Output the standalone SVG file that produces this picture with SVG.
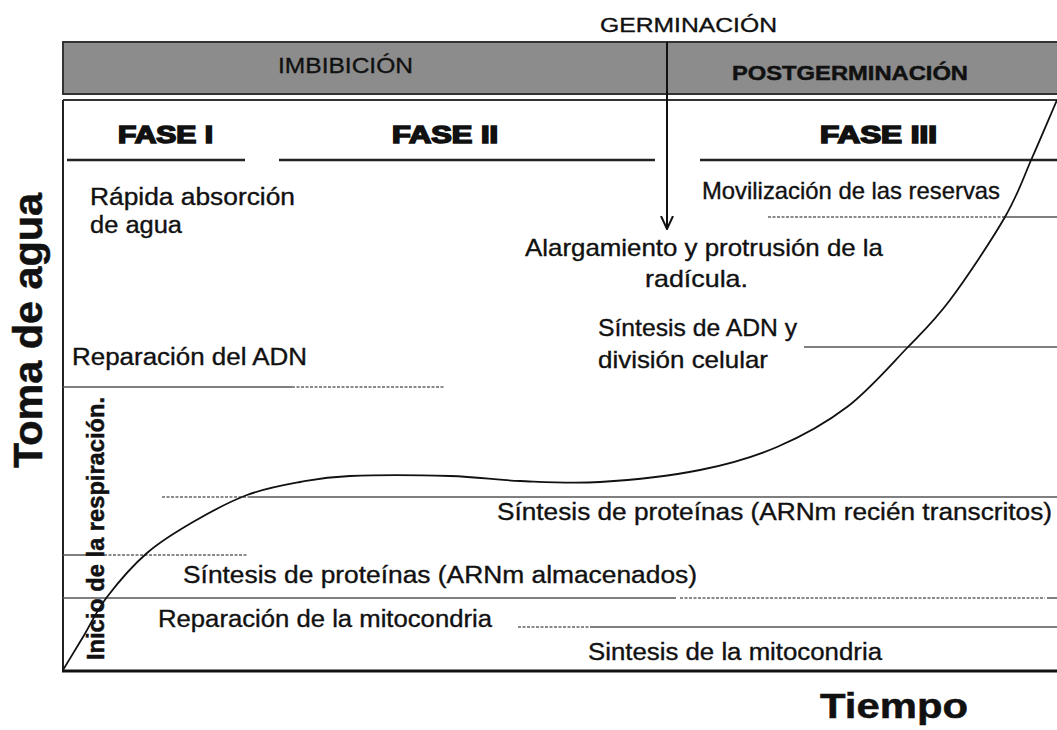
<svg xmlns="http://www.w3.org/2000/svg" width="1057" height="730" viewBox="0 0 1057 730">
<defs>
<style>
.t{font-family:"Liberation Sans",Arial,sans-serif;fill:#111;stroke:#111;stroke-width:0.35px;}
.b{font-weight:bold;stroke-width:0.5px;}
.fase{font-family:"Liberation Sans",Arial,sans-serif;font-weight:bold;font-size:23px;fill:#111;stroke:#111;stroke-width:1.6px;}
.ln{stroke:#555;stroke-width:1.5;fill:none;}
.dt{stroke:#666;stroke-width:1.5;fill:none;stroke-dasharray:3 1.5;}
.ph{stroke:#222;stroke-width:2.5;fill:none;}
</style>
<marker id="vh" viewBox="0 0 14 14" refX="13" refY="7" markerWidth="14" markerHeight="14" markerUnits="userSpaceOnUse" orient="auto">
<path d="M0,1 L13,7 L0,13" fill="none" stroke="#111" stroke-width="2"/>
</marker>
</defs>
<rect width="1057" height="730" fill="#fff"/>

<g id="header">
<rect x="63" y="42" width="1000" height="52" fill="#8c8c8c" stroke="#333" stroke-width="2"/>
<text class="t" x="278" y="73" font-size="22" textLength="135" lengthAdjust="spacingAndGlyphs">IMBIBICIÓN</text>
<text class="t b" x="732" y="80" font-size="21" textLength="236" lengthAdjust="spacingAndGlyphs">POSTGERMINACIÓN</text>
</g>

<g id="germinacion">
<text class="t" x="600" y="32" font-size="21" textLength="177" lengthAdjust="spacingAndGlyphs">GERMINACIÓN</text>
</g>

<g id="frame">
<line x1="63" y1="100" x2="1057" y2="100" stroke="#333" stroke-width="2"/>
<line x1="63" y1="100" x2="63" y2="672" stroke="#222" stroke-width="2"/>
<line x1="62" y1="671" x2="1057" y2="671" stroke="#111" stroke-width="3"/>
</g>

<g id="fases">
<text class="fase" x="118" y="143" textLength="95" lengthAdjust="spacingAndGlyphs">FASE I</text>
<text class="fase" x="392" y="143" textLength="106" lengthAdjust="spacingAndGlyphs">FASE II</text>
<text class="fase" x="820" y="143" textLength="117" lengthAdjust="spacingAndGlyphs">FASE III</text>
<line class="ph" x1="67" y1="160" x2="245" y2="160"/>
<line class="ph" x1="279" y1="160" x2="655" y2="160"/>
<line class="ph" x1="700" y1="160" x2="1057" y2="160"/>
</g>

<g id="connectors">
<line x1="667" y1="42" x2="667" y2="229" stroke="#111" stroke-width="2" marker-end="url(#vh)"/>
</g>

<g id="lines">
<line class="dt" x1="768" y1="217" x2="1002" y2="217"/>
<line class="ln" x1="1002" y1="217" x2="1057" y2="217"/>
<line class="ln" x1="804" y1="347" x2="1057" y2="347"/>
<line class="ln" x1="63" y1="387" x2="292" y2="387"/>
<line class="dt" x1="292" y1="387" x2="445" y2="387"/>
<line class="dt" x1="162" y1="497" x2="250" y2="497"/>
<line class="ln" x1="250" y1="497" x2="1057" y2="497"/>
<line class="ln" x1="63" y1="555" x2="95" y2="555"/>
<line class="dt" x1="95" y1="555" x2="247" y2="555" stroke-dasharray="5 2"/>
<line class="ln" x1="63" y1="598" x2="676" y2="598"/>
<line class="dt" x1="680" y1="598" x2="1045" y2="598"/>
<line class="ln" x1="1047" y1="598" x2="1057" y2="598"/>
<line class="dt" x1="518" y1="627" x2="590" y2="627"/>
<line class="ln" x1="590" y1="627" x2="1057" y2="627"/>
</g>

<g id="curve">
<path d="M63,670 C69.7,659 75.67,649.17 83,637 C90.33,624.83 96.33,611 107,597 C117.67,583 132.67,565.5 147,553 C161.33,540.5 176.33,531.67 193,522 C209.67,512.33 229.17,501.67 247,495 C264.83,488.33 282.83,485.17 300,482 C317.17,478.83 325,477 350,476 C375,475 421.67,475.17 450,476 C478.33,476.83 495,480 520,481 C545,482 570,483.83 600,482 C630,480.17 670.5,475.83 700,470 C729.5,464.17 752.5,457.5 777,447 C801.5,436.5 825.33,423.5 847,407 C868.67,390.5 889.83,365.83 907,348 C924.17,330.17 933.67,321.83 950,300 C966.33,278.17 991.33,240.67 1005,217 C1018.67,193.33 1023.33,177.5 1032,158 C1040.67,138.5 1048.67,119.33 1057,100" fill="none" stroke="#111" stroke-width="1.8"/>
</g>

<g id="labels">
<text class="t" x="90" y="205" font-size="23" textLength="205" lengthAdjust="spacingAndGlyphs">Rápida absorción</text>
<text class="t" x="90" y="233" font-size="23" textLength="92" lengthAdjust="spacingAndGlyphs">de agua</text>
<text class="t" x="702" y="199" font-size="24" textLength="298" lengthAdjust="spacingAndGlyphs">Movilización de las reservas</text>
<text class="t" x="525" y="256" font-size="24" textLength="358" lengthAdjust="spacingAndGlyphs">Alargamiento  y protrusión de la</text>
<text class="t" x="645" y="287" font-size="24" textLength="103" lengthAdjust="spacingAndGlyphs">radícula.</text>
<text class="t" x="598" y="336" font-size="24" textLength="199" lengthAdjust="spacingAndGlyphs">Síntesis de ADN y</text>
<text class="t" x="598" y="368" font-size="24" textLength="170" lengthAdjust="spacingAndGlyphs">división celular</text>
<text class="t" x="72" y="365" font-size="23" textLength="235" lengthAdjust="spacingAndGlyphs">Reparación del ADN</text>
<text class="t" x="497" y="520" font-size="23" textLength="555" lengthAdjust="spacingAndGlyphs">Síntesis de proteínas (ARNm recién transcritos)</text>
<text class="t" x="183" y="583" font-size="23" textLength="514" lengthAdjust="spacingAndGlyphs">Síntesis de proteínas (ARNm almacenados)</text>
<text class="t" x="158" y="627" font-size="23" textLength="334" lengthAdjust="spacingAndGlyphs">Reparación de la mitocondria</text>
<text class="t" x="588" y="660" font-size="23" textLength="294" lengthAdjust="spacingAndGlyphs">Sintesis de la mitocondria</text>
<text class="t b" transform="translate(104,660) rotate(-90)" font-size="23" textLength="263" lengthAdjust="spacingAndGlyphs">Inicio de la respiración.</text>
</g>

<g id="axes-labels">
<text class="t b" transform="translate(42,468) rotate(-90)" font-size="40" textLength="275" lengthAdjust="spacingAndGlyphs">Toma de agua</text>
<text class="t b" x="820" y="718" font-size="35" textLength="148" lengthAdjust="spacingAndGlyphs">Tiempo</text>
</g>
</svg>
